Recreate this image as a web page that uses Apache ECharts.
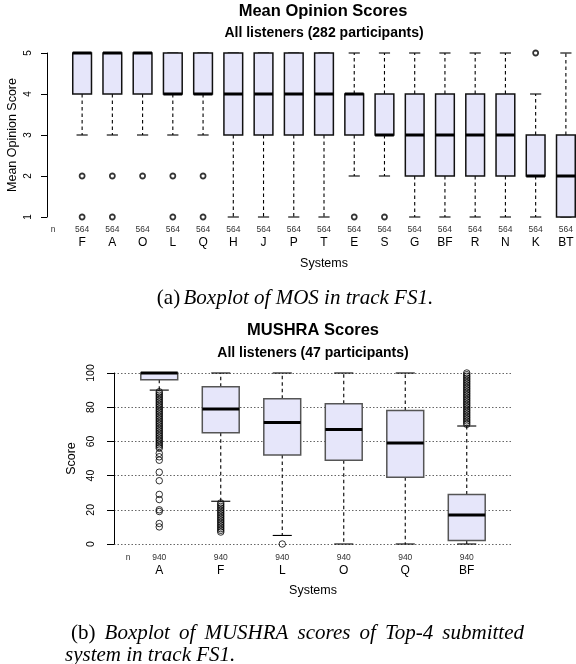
<!DOCTYPE html>
<html>
<head>
<meta charset="utf-8">
<script src="https://cdn.jsdelivr.net/npm/echarts@6/dist/echarts.min.js"></script>
<style>
  html, body { margin: 0; padding: 0; background: #fff; }
  #chart { width: 576px; height: 664px; }
</style>
</head>
<body>
<div id="chart"></div>
<script>
// --- (a) MOS boxplot, five-number summaries per system ---
const mosSystems = ['F', 'A', 'O', 'L', 'Q', 'H', 'J', 'P', 'T', 'E', 'S', 'G', 'BF', 'R', 'N', 'K', 'BT'];
const mosCounts = [564, 564, 564, 564, 564, 564, 564, 564, 564, 564, 564, 564, 564, 564, 564, 564, 564];
const mosLow = [3, 3, 3, 3, 3, 1, 1, 1, 1, 2, 2, 1, 1, 1, 1, 1, 1];
const mosQ1 = [4, 4, 4, 4, 4, 3, 3, 3, 3, 3, 3, 2, 2, 2, 2, 2, 1];
const mosMedian = [5, 5, 5, 4, 4, 4, 4, 4, 4, 4, 3, 3, 3, 3, 3, 2, 2];
const mosQ3 = [5, 5, 5, 5, 5, 5, 5, 5, 5, 4, 4, 4, 4, 4, 4, 3, 3];
const mosHigh = [5, 5, 5, 5, 5, 5, 5, 5, 5, 5, 5, 5, 5, 5, 5, 4, 5];
const mosOutliers = [[2, 1], [2, 1], [2], [2, 1], [2, 1], [], [], [], [], [1], [1], [], [], [], [], [5], []];
const mosTicks = [1, 2, 3, 4, 5];

// --- (b) MUSHRA boxplot ---
const mushraSystems = ['A', 'F', 'L', 'O', 'Q', 'BF'];
const mushraCounts = [940, 940, 940, 940, 940, 940];
const mushraLow = [90, 25, 5, 0, 0, 0];
const mushraQ1 = [96, 65, 52, 49, 39, 2];
const mushraMedian = [100, 79, 71, 67, 59, 17];
const mushraQ3 = [100, 92, 85, 82, 78, 29];
const mushraHigh = [100, 100, 100, 100, 100, 69];
const mushraOutliers = [
  [89, 88, 87, 86, 85, 84, 83, 82, 81, 80, 79, 78, 77, 76, 75, 74, 73, 72, 71, 70, 69, 68, 67, 66, 65,
   64, 63, 62, 61, 60, 59, 58, 57, 56, 53, 51, 49, 42, 37, 29, 26, 20, 19, 12, 10],
  [24, 23, 22, 21, 20, 19, 18, 17, 16, 15, 14, 13, 12, 11, 10, 9, 8, 7],
  [0],
  [],
  [],
  [100, 99, 98, 97, 96, 95, 94, 93, 92, 91, 90, 89, 88, 87, 86, 85, 84, 83, 82, 81, 80, 79, 78, 77, 76,
   75, 74, 73, 72, 71, 70]
];

const BOX_FILL = '#e6e6fa';
const SANS = '"Liberation Sans", Arial, sans-serif';
const SERIF = '"Liberation Serif", "Times New Roman", serif';
const CAPTION_PX = 21;

function boxData(low, q1, med, q3, high) {
  return low.map((v, i) => [i, v, q1[i], med[i], q3[i], high[i]]);
}

function outlierData(lists) {
  const out = [];
  lists.forEach((list, i) => list.forEach(v => out.push([i, v])));
  return out;
}

// R-style box: dashed whiskers, solid staples, filled box, thick median
function makeBoxRenderer(boxRatio, capRatio, border, borderWidth) {
  return function (params, api) {
    const i = api.value(0);
    const [cx, yLow] = api.coord([i, api.value(1)]);
    const yQ1 = api.coord([i, api.value(2)])[1];
    const yMed = api.coord([i, api.value(3)])[1];
    const yQ3 = api.coord([i, api.value(4)])[1];
    const yHigh = api.coord([i, api.value(5)])[1];
    const band = api.size([1, 0])[0];
    const hw = band * boxRatio / 2;
    const hc = band * capRatio / 2;
    const dash = { stroke: '#000', lineWidth: 1.1, lineDash: [3.5, 3] };
    const solid = { stroke: '#000', lineWidth: 1.1 };
    return {
      type: 'group',
      children: [
        { type: 'line', shape: { x1: cx, y1: yQ3, x2: cx, y2: yHigh }, style: dash },
        { type: 'line', shape: { x1: cx, y1: yQ1, x2: cx, y2: yLow }, style: dash },
        { type: 'line', shape: { x1: cx - hc, y1: yHigh, x2: cx + hc, y2: yHigh }, style: solid },
        { type: 'line', shape: { x1: cx - hc, y1: yLow, x2: cx + hc, y2: yLow }, style: solid },
        { type: 'rect', shape: { x: cx - hw, y: yQ3, width: 2 * hw, height: yQ1 - yQ3 },
          style: { fill: BOX_FILL, stroke: border, lineWidth: borderWidth } },
        { type: 'line', shape: { x1: cx - hw, y1: yMed, x2: cx + hw, y2: yMed },
          style: { stroke: '#000', lineWidth: 3 } }
      ]
    };
  };
}

function categoryAxis(gridIndex, systems, counts, margin) {
  return {
    gridIndex, type: 'category', data: systems,
    axisLine: { show: false }, axisTick: { show: false }, splitLine: { show: false },
    axisLabel: {
      interval: 0, margin,
      formatter: (v, idx) => `{n|${counts[idx]}}\n{c|${v}}`,
      rich: {
        n: { fontFamily: SANS, fontSize: 8.5, color: '#333', lineHeight: 12 },
        c: { fontFamily: SANS, fontSize: 12, color: '#000', lineHeight: 13 }
      }
    },
    name: 'Systems', nameLocation: 'middle', nameGap: 40,
    nameTextStyle: { fontFamily: SANS, fontSize: 12.5, color: '#000' }
  };
}

// justified caption line, (b) is upright and the rest italic like the paper
const measureCtx = document.createElement('canvas').getContext('2d');
function captionWords(words, x0, width, y) {
  const fonts = words.map((w, i) => (i === 0 ? '' : 'italic ') + CAPTION_PX + 'px ' + SERIF);
  const widths = words.map((w, i) => { measureCtx.font = fonts[i]; return measureCtx.measureText(w).width; });
  const gap = (width - widths.reduce((a, b) => a + b, 0)) / (words.length - 1);
  let x = x0;
  return words.map((w, i) => {
    const el = { type: 'text', x, y, style: { text: w, font: fonts[i], fill: '#000', textVerticalAlign: 'middle' } };
    x += widths[i] + gap;
    return el;
  });
}

const chart = echarts.init(document.getElementById('chart'), null, { renderer: 'canvas' });

chart.setOption({
  animation: false,
  backgroundColor: '#fff',
  grid: [
    { left: 67, top: 53, width: 514, height: 164, outerBoundsMode: 'none' },
    { left: 114, top: 373, width: 398, height: 171, outerBoundsMode: 'none' },
    { left: 128.5, top: 373, width: 369, height: 171, outerBoundsMode: 'none' }
  ],
  xAxis: [
    categoryAxis(0, mosSystems, mosCounts, 7),
    { gridIndex: 1, type: 'value', min: 0, max: 1, show: false },
    categoryAxis(2, mushraSystems, mushraCounts, 8)
  ],
  yAxis: [
    {
      gridIndex: 0, type: 'value', min: mosTicks[0], max: mosTicks[mosTicks.length - 1], interval: 1, offset: 20,
      axisLine: { show: true, lineStyle: { color: '#000', width: 1 } },
      axisTick: { show: true, length: 6, lineStyle: { color: '#000' } },
      axisLabel: { rotate: 90, margin: 14, fontFamily: SANS, fontSize: 10, color: '#000' },
      splitLine: { show: false },
      name: 'Mean Opinion Score', nameLocation: 'middle', nameGap: 28, nameMoveOverlap: false,
      nameTextStyle: { fontFamily: SANS, fontSize: 12.5, color: '#000' }
    },
    {
      gridIndex: 1, type: 'value', min: 0, max: 100, interval: 20,
      axisLine: { show: true, lineStyle: { color: '#000', width: 1 } },
      axisTick: { show: true, length: 7, lineStyle: { color: '#000' } },
      axisLabel: { rotate: 90, margin: 17, fontFamily: SANS, fontSize: 10.5, color: '#000' },
      splitLine: { show: true, lineStyle: { color: '#666', width: 1, type: [1.5, 2] } },
      name: 'Score', nameLocation: 'middle', nameGap: 32,
      nameTextStyle: { fontFamily: SANS, fontSize: 12.5, color: '#000' }
    },
    { gridIndex: 2, type: 'value', min: 0, max: 100, show: false }
  ],
  series: [
    {
      type: 'custom', xAxisIndex: 0, yAxisIndex: 0,
      renderItem: makeBoxRenderer(0.62, 0.37, '#111', 1.5),
      encode: { x: 0, y: [1, 2, 3, 4, 5] },
      data: boxData(mosLow, mosQ1, mosMedian, mosQ3, mosHigh)
    },
    {
      type: 'scatter', xAxisIndex: 0, yAxisIndex: 0, symbol: 'circle', symbolSize: 5, z: 5,
      itemStyle: { color: 'rgba(0,0,0,0)', borderColor: '#000', borderWidth: 1.8 },
      data: outlierData(mosOutliers)
    },
    {
      type: 'custom', xAxisIndex: 2, yAxisIndex: 2,
      renderItem: makeBoxRenderer(0.6, 0.31, '#555', 1.5),
      encode: { x: 0, y: [1, 2, 3, 4, 5] },
      data: boxData(mushraLow, mushraQ1, mushraMedian, mushraQ3, mushraHigh)
    },
    {
      type: 'scatter', xAxisIndex: 2, yAxisIndex: 2, symbol: 'circle', symbolSize: 6.5, z: 5,
      itemStyle: { color: 'rgba(0,0,0,0)', borderColor: '#000', borderWidth: 1 },
      data: outlierData(mushraOutliers)
    }
  ],
  graphic: [
    { type: 'text', x: 323, y: 11, style: { text: 'Mean Opinion Scores', font: 'bold 16.5px ' + SANS, fill: '#000', textAlign: 'center', textVerticalAlign: 'middle' } },
    { type: 'text', x: 324, y: 33, style: { text: 'All listeners (282 participants)', font: 'bold 14px ' + SANS, fill: '#000', textAlign: 'center', textVerticalAlign: 'middle' } },
    { type: 'text', x: 53, y: 230, style: { text: 'n', font: '8.5px ' + SANS, fill: '#333', textAlign: 'center', textVerticalAlign: 'middle' } },
    {
      type: 'text', x: 295, y: 298,
      style: {
        text: '{r|(a)} {i|Boxplot of MOS in track FS1.}', textAlign: 'center', textVerticalAlign: 'middle',
        rich: { r: { font: CAPTION_PX + 'px ' + SERIF, fill: '#000' }, i: { font: 'italic ' + CAPTION_PX + 'px ' + SERIF, fill: '#000' } }
      }
    },
    { type: 'text', x: 313, y: 330, style: { text: 'MUSHRA Scores', font: 'bold 16.5px ' + SANS, fill: '#000', textAlign: 'center', textVerticalAlign: 'middle' } },
    { type: 'text', x: 313, y: 353, style: { text: 'All listeners (47 participants)', font: 'bold 14px ' + SANS, fill: '#000', textAlign: 'center', textVerticalAlign: 'middle' } },
    { type: 'text', x: 128, y: 558, style: { text: 'n', font: '8.5px ' + SANS, fill: '#333', textAlign: 'center', textVerticalAlign: 'middle' } },
    ...captionWords(['(b)', 'Boxplot', 'of', 'MUSHRA', 'scores', 'of', 'Top-4', 'submitted'], 71, 453, 633),
    { type: 'text', x: 65, y: 655, style: { text: 'system in track FS1.', font: 'italic ' + CAPTION_PX + 'px ' + SERIF, fill: '#000', textVerticalAlign: 'middle' } }
  ]
});
</script>
</body>
</html>
